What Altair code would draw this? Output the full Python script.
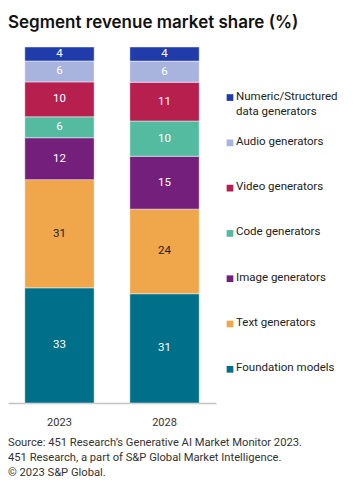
import altair as alt
import pandas as pd

years = ["2023", "2028"]
segments = [
    "Foundation models",
    "Text generators",
    "Image generators",
    "Code generators",
    "Video generators",
    "Audio generators",
    "Numeric/Structured data generators",
]
share_2023 = [33, 31, 12, 6, 10, 6, 4]
share_2028 = [31, 24, 15, 10, 11, 6, 4]
colors = ["#006f89", "#f0a64b", "#741f7b", "#55bba0", "#b71f4f", "#a8b4de", "#1f3caa"]
legend_labels = [
    "Foundation models",
    "Text generators",
    "Image generators",
    "Code generators",
    "Video generators",
    "Audio generators",
    "Numeric/Structured\ndata generators",
]
title_text = "Segment revenue market share (%)"
source_lines = [
    "Source: 451 Research\u2019s Generative AI Market Monitor 2023.",
    "451 Research, a part of S&P Global Market Intelligence.",
    "\u00a9 2023 S&P Global.",
]

FONT = "Roboto"

rows = []
for yr, vals in zip(years, [share_2023, share_2028]):
    for i, (seg, v) in enumerate(zip(segments, vals)):
        rows.append({"year": yr, "segment": seg, "value": v, "order": i})
df = pd.DataFrame(rows)

ldf = pd.DataFrame({"segment": segments, "label": legend_labels, "pos": [0] * len(segments)})

color_scale = alt.Scale(domain=segments, range=colors)
no_view = alt.ViewBackground(strokeWidth=0, strokeOpacity=0)

base = alt.Chart(df).transform_stack(
    stack="value",
    groupby=["year"],
    sort=[alt.SortField("order", order="ascending")],
    as_=["y0", "y1"],
    offset="normalize",
).transform_calculate(mid="(datum.y0 + datum.y1) / 2")

xenc = alt.X(
    "year:N",
    title=None,
    scale=alt.Scale(paddingInner=0.34, paddingOuter=0.16),
    axis=alt.Axis(labelAngle=0, ticks=False, grid=False, domainColor="#c4c4c4", domainWidth=1.5,
                  labelFontSize=11, labelColor="#333333", labelPadding=13, labelFont=FONT),
)
yscale = alt.Scale(domain=[0, 1])

bars = base.mark_bar(stroke="white", strokeWidth=1, strokeOpacity=0.45).encode(
    x=xenc,
    y=alt.Y("y0:Q", scale=yscale, axis=None),
    y2="y1:Q",
    color=alt.Color("segment:N", scale=color_scale, legend=None),
)

labels = base.mark_text(fontSize=11.5, font=FONT).encode(
    x=xenc,
    y=alt.Y("mid:Q", scale=yscale, axis=None),
    text=alt.Text("value:Q"),
    color=alt.condition("datum.segment == 'Text generators'", alt.value("#222222"), alt.value("white")),
)

bar_panel = alt.layer(bars, labels).properties(
    width=208,
    height=356,
    view=no_view,
    title=alt.TitleParams(
        source_lines, orient="bottom", anchor="start", fontSize=11.2, fontWeight="normal",
        color="#333333", font=FONT, lineHeight=15, offset=10,
    ),
)

yleg = alt.Y("segment:N", sort=list(reversed(segments)),
             scale=alt.Scale(type="point", padding=0.93, align=0.6), axis=None)
xleg = alt.X("pos:Q", scale=alt.Scale(domain=[0, 1]), axis=None)

squares = alt.Chart(ldf).mark_square(size=45, opacity=1).encode(
    x=xleg, y=yleg, color=alt.Color("segment:N", scale=color_scale, legend=None)
)
ltext = alt.Chart(ldf).mark_text(
    align="left", baseline="top", dx=6, dy=-7, lineBreak="\n", fontSize=11.5,
    lineHeight=15, font=FONT, color="#222222",
).encode(x=xleg, y=yleg, text="label:N")

legend_panel = alt.layer(squares, ltext).properties(width=110, height=356, view=no_view)

chart = alt.hconcat(bar_panel, legend_panel, spacing=14, bounds="flush").properties(
    title=alt.TitleParams(title_text, anchor="start", fontSize=17, fontWeight=600,
                          font="Inter", color="#111111", offset=15),
    padding={"left": 0, "top": 5, "right": 0, "bottom": 0},
).configure_view(strokeWidth=0, strokeOpacity=0).configure(font=FONT)

chart.save("out.html", embed_options={"renderer": "svg", "actions": False})
